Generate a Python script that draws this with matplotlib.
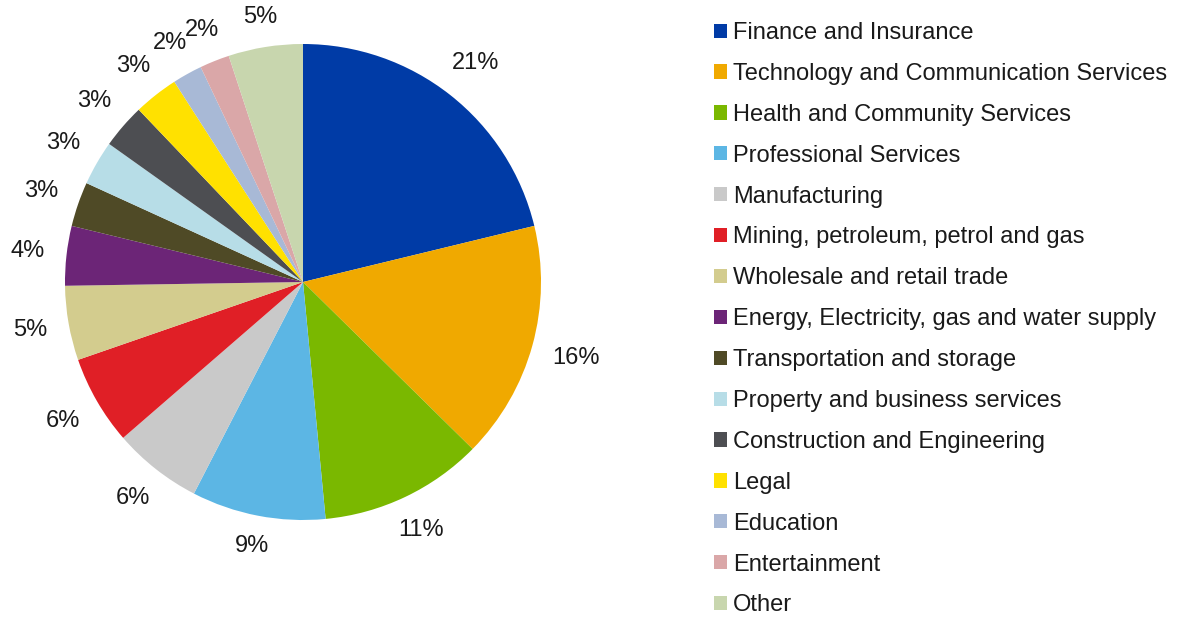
import numpy as np
import matplotlib.pyplot as plt
from matplotlib.patches import Patch

plt.rcParams['font.family'] = ['Liberation Sans', 'DejaVu Sans']

sectors = [
    "Finance and Insurance",
    "Technology and Communication Services",
    "Health and Community Services",
    "Professional Services",
    "Manufacturing",
    "Mining, petroleum, petrol and gas",
    "Wholesale and retail trade",
    "Energy, Electricity, gas and water supply",
    "Transportation and storage",
    "Property and business services",
    "Construction and Engineering",
    "Legal",
    "Education",
    "Entertainment",
    "Other",
]
shares = [21, 16, 11, 9, 6, 6, 5, 4, 3, 3, 3, 3, 2, 2, 5]
colors = [
    "#003BA6", "#F0A900", "#7AB800", "#5CB6E4", "#C9C9C9",
    "#E01F26", "#D3CC8E", "#6C2577", "#4F4A26", "#B7DDE7",
    "#4D4E52", "#FFE100", "#A8B9D6", "#DAA7A8", "#C8D6AE",
]

fig = plt.figure(figsize=(11.84, 6.18), dpi=100)
radius_px = 238
ax = fig.add_axes([(303 - radius_px) / 1184, (618 - 282 - radius_px) / 618,
                   2 * radius_px / 1184, 2 * radius_px / 618])

wedges, _ = ax.pie(
    shares,
    colors=colors,
    startangle=90,
    counterclock=False,
    wedgeprops={"linewidth": 0},
)
ax.set_xlim(-1, 1)
ax.set_ylim(-1, 1)
ax.set_aspect("equal")
ax.axis("off")

# percentage labels sit a fixed gap outside the rim, measured to the text box edge
renderer = fig.canvas.get_renderer()
gap = 21
for w, v in zip(wedges, shares):
    ang = np.deg2rad((w.theta1 + w.theta2) / 2)
    t = ax.text(0, 0, f"{v}%", fontsize=17, color="#1a1a1a",
                ha="center", va="center")
    bb = t.get_window_extent(renderer)
    dist = (radius_px + gap + bb.width / 2 * abs(np.cos(ang))
            + bb.height * 0.3 * abs(np.sin(ang))) / radius_px
    t.set_position((dist * np.cos(ang), dist * np.sin(ang)))

handles = [Patch(facecolor=c, edgecolor="none") for c in colors]
fig.legend(
    handles,
    sectors,
    loc="upper left",
    bbox_to_anchor=(714 / 1184, 1 - 22 / 618),
    frameon=False,
    fontsize=17,
    handlelength=0.55,
    handleheight=0.55,
    handletextpad=0.25,
    labelspacing=0.80,
    borderaxespad=0,
    borderpad=0,
    labelcolor="#1a1a1a",
)

fig.savefig("out.png", dpi=100)
